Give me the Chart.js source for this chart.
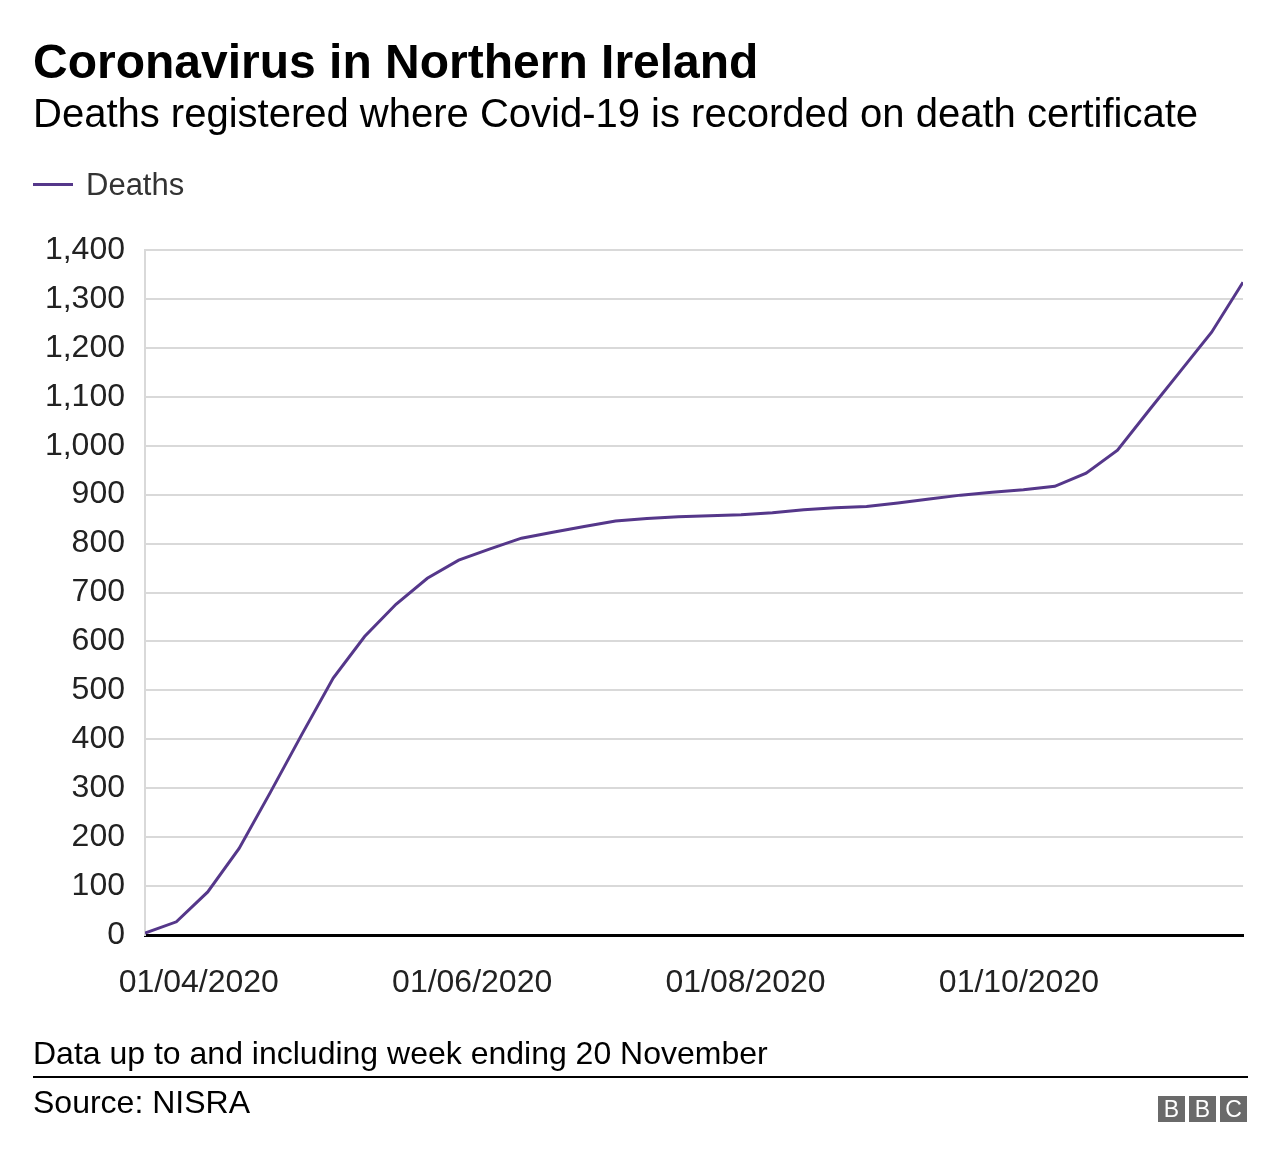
<!DOCTYPE html>
<html>
<head>
<meta charset="utf-8">
<script src="https://cdn.jsdelivr.net/npm/chart.js@4/dist/chart.umd.min.js"></script>
<style>
  body { margin: 0; background: #fff; font-family: "Liberation Sans", Arial, Helvetica, sans-serif; }
  #page { position: relative; width: 1280px; height: 1164px; overflow: hidden; }
  #chart { position: absolute; left: 0; top: 0; }
  .txt { position: absolute; left: 33px; line-height: 1; white-space: nowrap; }
  #title { top: 38px; font-size: 48px; font-weight: bold; color: #000; }
  #subtitle { top: 93px; font-size: 40px; color: #000; }
  #legend { top: 169px; font-size: 31px; color: #333; }
  #legend span.swatch { display: inline-block; width: 40px; height: 3px; background: #55378a; vertical-align: middle; margin-right: 13px; position: relative; top: -2px; }
  #note { top: 1037px; font-size: 32px; color: #000; }
  #rule { position: absolute; left: 33px; top: 1076px; width: 1215px; height: 2px; background: #000; }
  #source { top: 1086px; font-size: 32px; color: #000; }
  #bbc { position: absolute; left: 1158px; top: 1096px; }
  #bbc div { float: left; width: 27px; height: 26px; margin-right: 4px; background: #6a6a6a; color: #fff; font-size: 23px; line-height: 26px; text-align: center; }
  #bbc div:last-child { margin-right: 0; }
</style>
</head>
<body>
<div id="page">
  <canvas id="chart" width="1280" height="1164"></canvas>
  <div class="txt" id="title">Coronavirus in Northern Ireland</div>
  <div class="txt" id="subtitle">Deaths registered where Covid-19 is recorded on death certificate</div>
  <div class="txt" id="legend"><span class="swatch"></span>Deaths</div>
  <div class="txt" id="note">Data up to and including week ending 20 November</div>
  <div id="rule"></div>
  <div class="txt" id="source">Source: NISRA</div>
  <div id="bbc"><div>B</div><div>B</div><div>C</div></div>
</div>
<script>
// week ending dates (dd/mm/yyyy) and cumulative deaths
const weekEnding = [
  "20/03/2020", "27/03/2020", "03/04/2020", "10/04/2020", "17/04/2020", "24/04/2020",
  "01/05/2020", "08/05/2020", "15/05/2020", "22/05/2020", "29/05/2020", "05/06/2020",
  "12/06/2020", "19/06/2020", "26/06/2020", "03/07/2020", "10/07/2020", "17/07/2020",
  "24/07/2020", "31/07/2020", "07/08/2020", "14/08/2020", "21/08/2020", "28/08/2020",
  "04/09/2020", "11/09/2020", "18/09/2020", "25/09/2020", "02/10/2020", "09/10/2020",
  "16/10/2020", "23/10/2020", "30/10/2020", "06/11/2020", "13/11/2020", "20/11/2020"
];
const deaths = [
  4, 27, 88, 177, 292, 410,
  525, 610, 676, 729, 766, 789,
  811, 823, 835, 846, 851, 855,
  857, 859, 863, 869, 873, 876,
  883, 891, 899, 905, 910, 917,
  944, 991, 1072, 1152, 1232, 1334
];
const xTickDates = ["01/04/2020", "01/06/2020", "01/08/2020", "01/10/2020"];
const yMin = 0, yMax = 1400, yStep = 100;

const DAY = 86400000;
const yearStart = Date.UTC(2020, 0, 1);
function toDay(s) {
  const [d, m, y] = s.split("/").map(Number);
  return (Date.UTC(y, m - 1, d) - yearStart) / DAY;
}
function fromDay(n) {
  const dt = new Date(yearStart + n * DAY);
  const pad = v => String(v).padStart(2, "0");
  return pad(dt.getUTCDate()) + "/" + pad(dt.getUTCMonth() + 1) + "/" + dt.getUTCFullYear();
}

const points = weekEnding.map((s, i) => ({ x: toDay(s), y: deaths[i] }));
const tickFont = { family: "'Liberation Sans', Arial, sans-serif", size: 32 };

new Chart(document.getElementById("chart"), {
  type: "line",
  data: {
    datasets: [{
      label: "Deaths",
      data: points,
      borderColor: "#55378a",
      borderWidth: 3,
      pointRadius: 0,
      tension: 0,
      fill: false
    }]
  },
  options: {
    responsive: false,
    animation: false,
    layout: { padding: { top: 250, left: 20, right: 37, bottom: 159 } },
    plugins: { legend: { display: false }, tooltip: { enabled: false } },
    scales: {
      x: {
        type: "linear",
        min: toDay(weekEnding[0]),
        max: toDay(weekEnding[weekEnding.length - 1]),
        afterBuildTicks: scale => {
          scale.ticks = xTickDates.map(s => ({ value: toDay(s) }));
        },
        afterFit: scale => { scale.height = 70; },
        grid: { display: false, drawTicks: false, tickLength: 0 },
        border: { display: true, color: "#000", width: 3 },
        ticks: {
          font: tickFont,
          color: "#222",
          padding: 29,
          maxRotation: 0,
          autoSkip: false,
          callback: v => fromDay(v)
        }
      },
      y: {
        min: yMin,
        max: yMax,
        afterFit: scale => { scale.width = 125; },
        grid: {
          drawTicks: false,
          tickLength: 0,
          lineWidth: 2,
          color: ctx => (ctx.tick && ctx.tick.value === 0 ? "rgba(0,0,0,0)" : "#d9d9d9")
        },
        border: { display: true, color: "#d9d9d9", width: 2 },
        ticks: {
          stepSize: yStep,
          font: tickFont,
          color: "#222",
          padding: 20,
          callback: v => v.toLocaleString("en-GB")
        }
      }
    }
  }
});
</script>
</body>
</html>
